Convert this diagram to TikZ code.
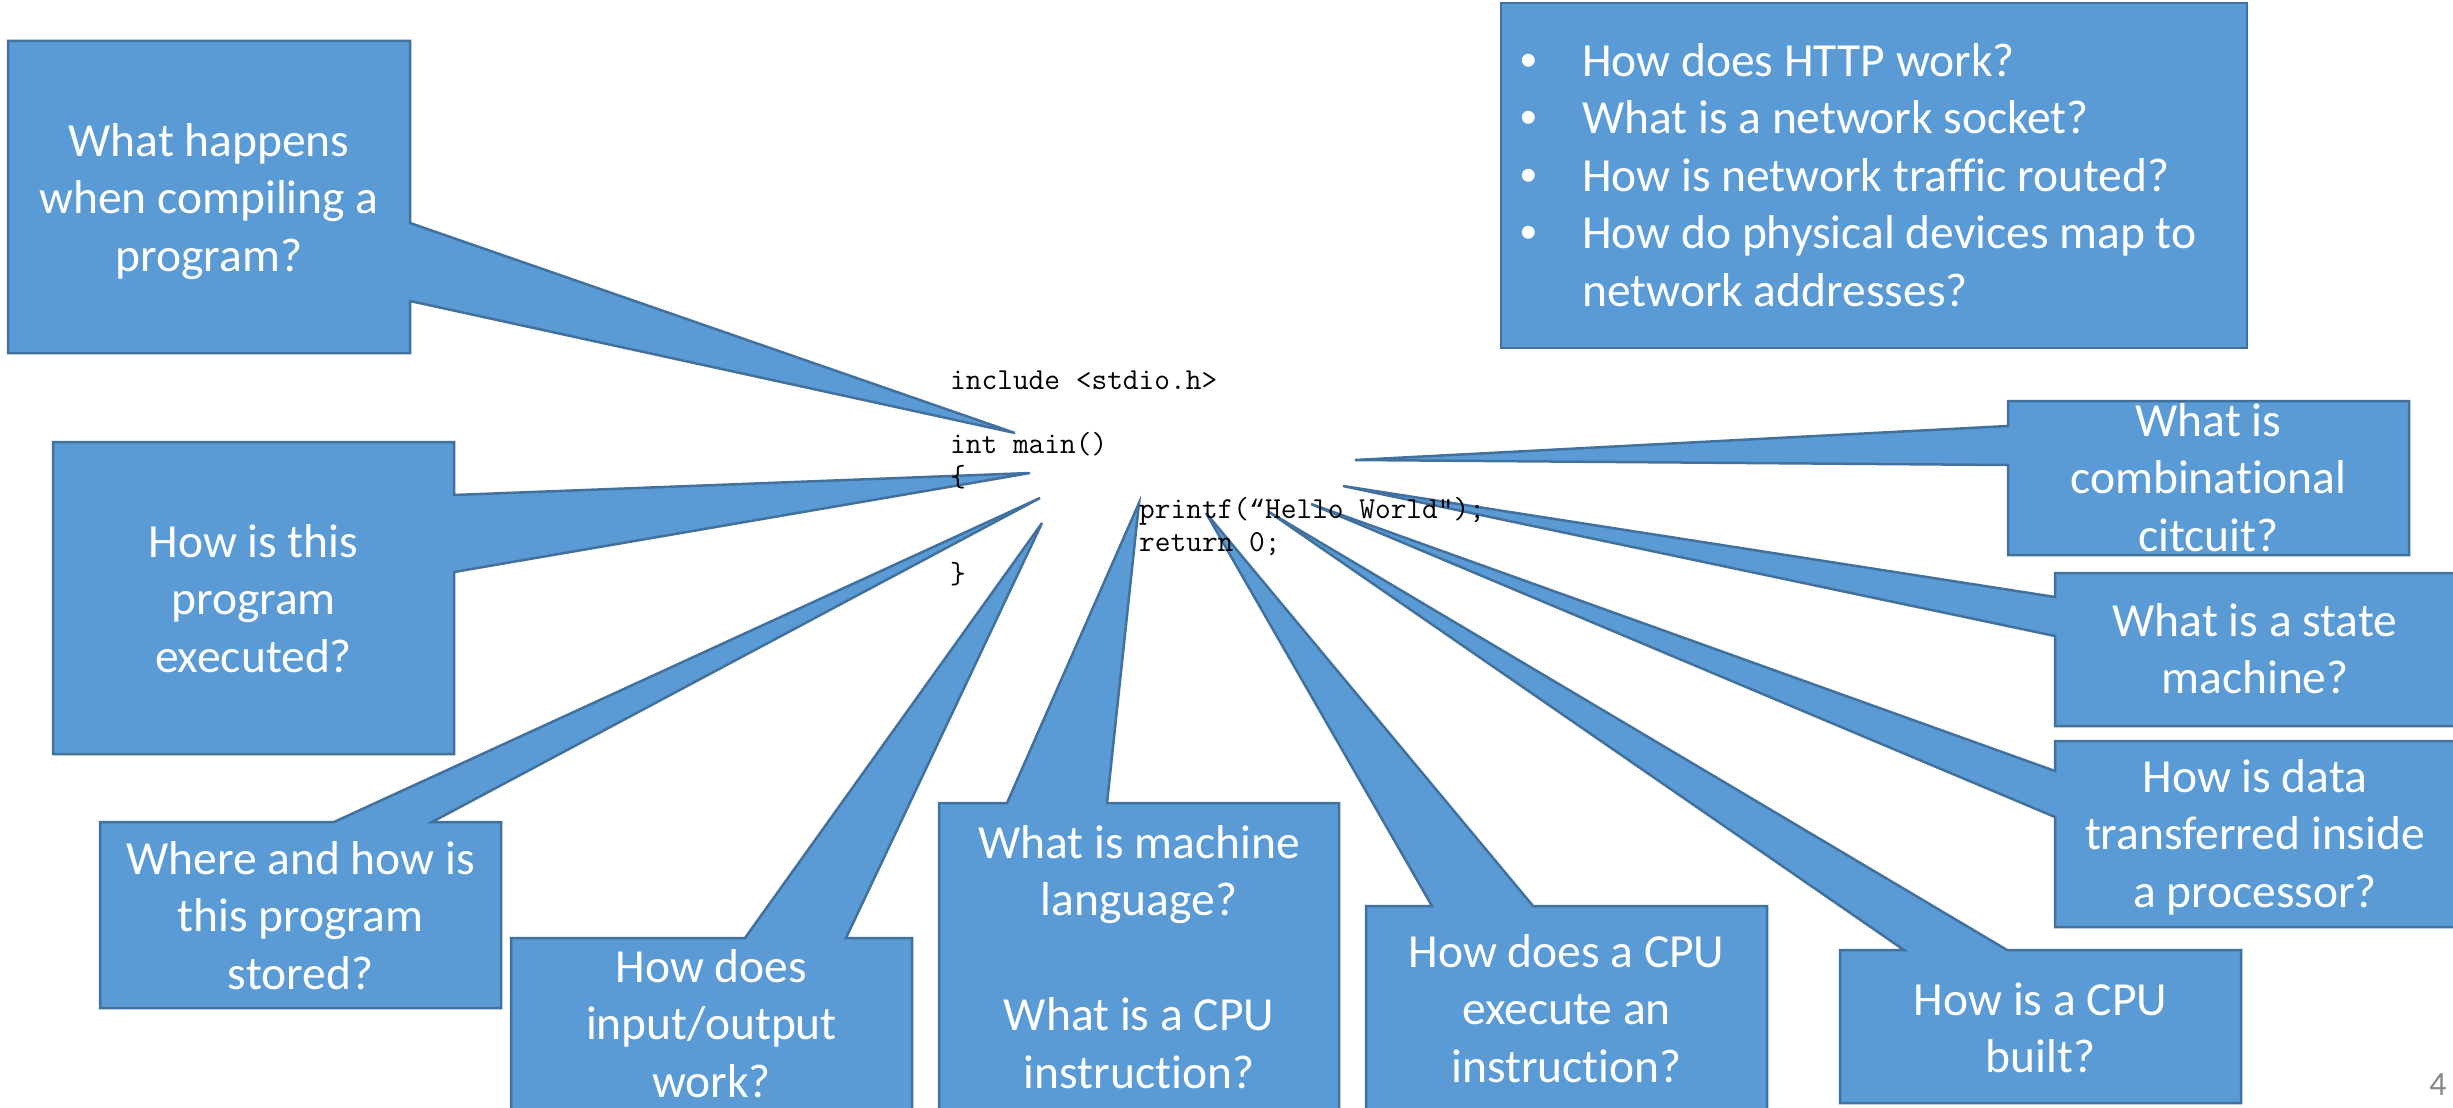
\documentclass[tikz,border=0pt]{standalone}
\usepackage{fontspec}
\newfontfamily\calib[Ligatures={NoCommon}]{Carlito}
\newfontfamily\bulfont{Liberation Sans}
\newfontfamily\quotefont{Liberation Mono}
\definecolor{callfill}{HTML}{5B9BD5}
\definecolor{callline}{HTML}{41719C}
\definecolor{pagegray}{HTML}{898989}
\newcommand\qsize{\calib\fontsize{47.5}{57.5}\selectfont}
\newcommand\csize{\ttfamily\fontsize{30.5}{32.4}\selectfont}
% curly opening quote, same advance as one code character
\newcommand\oquote{\makebox[16pt]{\quotefont\fontsize{26.7}{32.4}\selectfont “}}
% bullet centred 53pt to the left of the item text
\newcommand\bul{\llap{\makebox[106pt]{\bulfont •}}}

\tikzset{
  callout/.style={fill=callfill, draw=callline, line width=2.5pt, line join=miter},
  qtext/.style={text=white, font=\qsize, align=center, inner sep=0pt, anchor=north},
  codetext/.style={text=black, font=\csize, align=left, inner sep=0pt, anchor=north west},
}

\begin{document}
\begin{tikzpicture}[x=1pt, y=-1pt]
\useasboundingbox (0,0) rectangle (2453,1108);
\fill[white] (0,0) rectangle (2453,1108);
\clip (0,0) rectangle (2453,1108);

% tips of the callout wedges, all pointing at the program text
\coordinate (tA) at (1015,433);
\coordinate (tB) at (1030,473);
\coordinate (tC) at (1040,498);
\coordinate (tD) at (1042,523);
\coordinate (tE) at (1139,503);
\coordinate (tF) at (1206,513);
\coordinate (tG) at (1269,512);
\coordinate (tH) at (1311,504);
\coordinate (tI) at (1343,486);
\coordinate (tJ) at (1355,460);

% network questions box
\draw[callout] (1501,3) rectangle (2247,348);

% callouts on the left
\draw[callout] (8,41) -- (410,41) -- (410,223) -- (tA) -- (410,301) -- (410,353) -- (8,353) -- cycle;
\draw[callout] (53,442) -- (454,442) -- (454,495) -- (tB) -- (454,572) -- (454,754) -- (53,754) -- cycle;
\draw[callout] (100,822) -- (334,822) -- (tC) -- (432,822) -- (501,822) -- (501,1008) -- (100,1008) -- cycle;

% callouts along the bottom
\draw[callout] (511,938) -- (745,938) -- (tD) -- (846,938) -- (912,938) -- (912,1125) -- (511,1125) -- cycle;
\draw[callout] (939,803) -- (1007,803) -- (tE) -- (1107,803) -- (1339,803) -- (1339,1125) -- (939,1125) -- cycle;
\draw[callout] (1366,906) -- (1432,906) -- (tF) -- (1533,906) -- (1767,906) -- (1767,1125) -- (1366,1125) -- cycle;
\draw[callout] (1840,950) -- (1904,950) -- (tG) -- (2007,950) -- (2241,950) -- (2241,1103) -- (1840,1103) -- cycle;

% callouts on the right
\draw[callout] (2055,741) -- (2465,741) -- (2465,927) -- (2055,927) -- (2055,817) -- (tH) -- (2055,771) -- cycle;
\draw[callout] (2055,573) -- (2465,573) -- (2465,726) -- (2055,726) -- (2055,636) -- (tI) -- (2055,597) -- cycle;
\draw[callout] (2008,401) -- (2409,401) -- (2409,555) -- (2008,555) -- (2008,465) -- (tJ) -- (2008,426) -- cycle;

% question texts (anchor = first baseline - 0.7 baselineskip)
\node[qtext] (qA) at (209,115.75) {\strut What happens\\when compiling a\\program?};
\node[qtext] (qB) at (253.5,516.75) {\strut How is this\\program\\executed?};
\node[qtext] (qC) at (300.5,833.75) {\strut Where and how is\\this program\\stored?};
\node[qtext] (qD) at (711.5,941.75) {\strut How does\\input/output\\work?};
\node[qtext] (qE) at (1139,817.75) {\strut What is machine\\language?\\\mbox{}\\What is a CPU\\instruction?};
\node[qtext] (qF) at (1566.5,926.75) {\strut How does a CPU\\execute an\\instruction?};
\node[qtext] (qG) at (2040.5,974.75) {\strut How is a CPU\\built?};
\node[qtext] (qH) at (2255,751.75) {\strut How is data\\transferred inside\\a processor?};
\node[qtext] (qI) at (2255,595.75) {\strut What is a state\\machine?};
\node[qtext] (qJ) at (2208.5,395.75) {\strut What is\\combinational\\citcuit?};

\node[qtext, align=left, anchor=north west] (net) at (1582,35.75)
  {\strut\bul How does HTTP work?\\
   \bul What is a network socket?\\
   \bul How is network traffic routed?\\
   \bul How do physical devices map to\\
   network addresses?};

% the program
\node[codetext] (code) at (950,366.3)
  {\strut include <stdio.h>\\
   \mbox{}\\
   int main()\\
   \{\\
   \hspace*{189pt}printf(\oquote Hello World");\\
   \hspace*{189pt}return 0;\\
   \}};

% slide number
\node[text=pagegray, font=\calib\fontsize{34}{40}\selectfont, anchor=base, inner sep=0pt] (pg) at (2438,1095) {4};
\end{tikzpicture}
\end{document}
